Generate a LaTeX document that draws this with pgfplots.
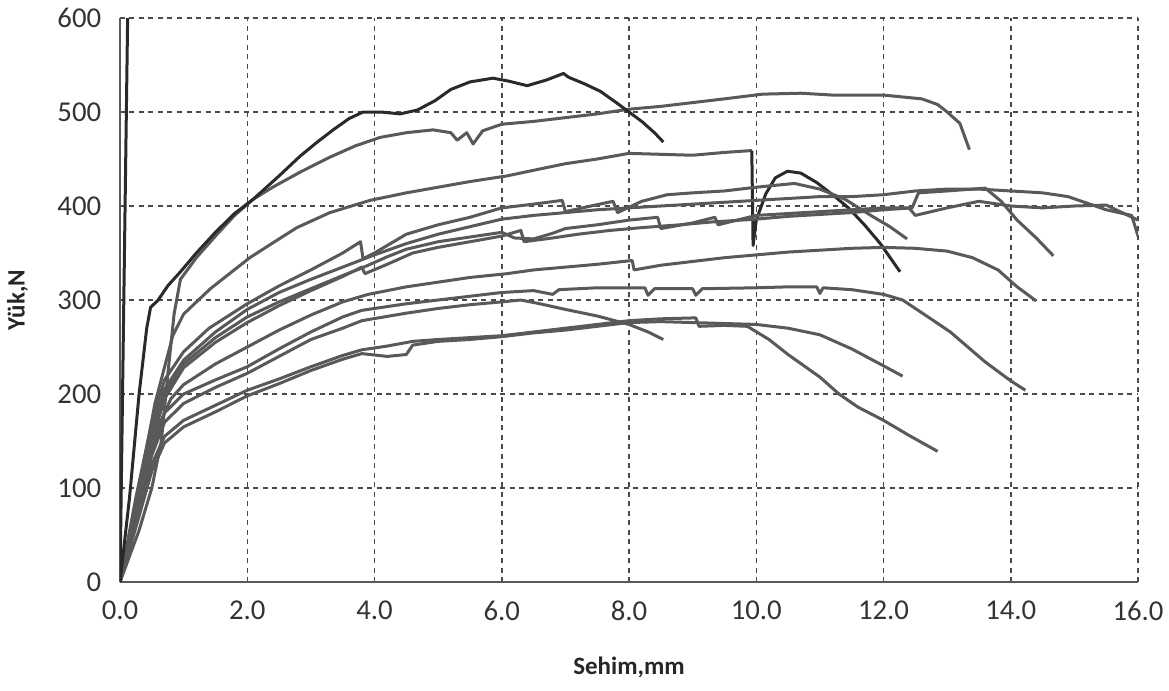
\documentclass[border=0pt]{standalone}
\usepackage{fontspec}
\setmainfont{Carlito}
\usepackage{pgfplots}
\pgfplotsset{compat=1.18}
\definecolor{cdark}{HTML}{2A2A2A}
\definecolor{cgray}{HTML}{595959}
\definecolor{cgrid}{HTML}{4A4A4A}
\begin{document}
\begin{tikzpicture}
\begin{axis}[
  scale only axis, width=407.2pt, height=225.6pt,
  xmin=0, xmax=16, ymin=0, ymax=600,
  xtick={0,2,...,16},
  xticklabels={0.0,2.0,4.0,6.0,8.0,10.0,12.0,14.0,16.0},
  ytick={0,100,...,600},
  yticklabels={0,100,200,300,400,500,600},
  axis x line*=bottom, axis y line*=left,
  axis line style={-, line width=1pt, color=cgray},
  grid=major,
  major grid style={line width=0.6pt, color=cgrid, dash pattern=on 2pt off 1.8pt},
  xtick style={draw=none},
  ytick style={draw=none},
  tick label style={font=\fontsize{11.5}{13}\selectfont, color=black!80},
  xticklabel style={yshift=-4pt},
  yticklabel style={xshift=-4pt},
  xlabel={\textbf{Sehim,mm}}, ylabel={\textbf{Yük,N}},
  label style={font=\fontsize{10}{12}\selectfont, color=black!85},
  xlabel style={at={([yshift=-34pt]rel axis cs:0.5,0)}, anchor=center},
  ylabel style={at={([xshift=-41pt]rel axis cs:0,0.5)}, anchor=center},
  every axis plot/.append style={line width=1.2pt, line join=round},
]
\coordinate (O) at (rel axis cs:0,0);
% C3
\addplot[cgray] coordinates {(0,0)(0.3,55)(0.5,100)(0.65,150)(0.75,220)(0.85,285)(0.95,322)(1.2,345)(1.5,368)(1.8,390)(2.09,407)(2.4,420)(2.83,436)(3.3,452)(3.7,464)(4.09,473)(4.5,478)(4.92,481)(5.2,478)(5.3,470)(5.45,478)(5.55,466)(5.7,480)(6.0,487)(6.5,490)(7.0,494)(7.5,498)(8.0,503)(8.5,506)(9.0,510)(9.5,514)(10.1,519)(10.7,520)(11.2,518)(12.0,518)(12.6,514)(12.85,508)(13.0,500)(13.2,488)(13.35,460)};
% C4
\addplot[cgray] coordinates {(0,0)(0.3,100)(0.55,190)(0.83,262)(1.0,285)(1.42,312)(2.04,345)(2.5,365)(2.78,377)(3.3,393)(3.93,406)(4.5,414)(5.0,420)(5.5,426)(6.08,432)(6.5,438)(7.0,445)(7.5,450)(8.0,456)(8.5,455)(9.0,454)(9.5,457)(9.93,459)};
\addplot[cdark] coordinates {(9.93,459)(9.95,358)(10.0,385)(10.15,413)(10.3,430)(10.49,437)(10.7,435)(10.95,425)(11.2,412)(11.45,398)(11.7,380)(11.95,360)(12.26,330)};
% H1
\addplot[cgray] coordinates {(0,0)(0.25,90)(0.5,170)(0.7,215)(1.0,245)(1.4,270)(2.0,296)(2.5,315)(3.0,332)(3.5,350)(3.78,362)(3.82,344)(4.0,350)(4.2,358)(4.5,370)(5.0,380)(5.5,388)(6.0,398)(6.5,402)(6.95,406)(7.0,394)(7.4,400)(7.75,405)(7.82,393)(8.2,405)(8.6,412)(9.0,414)(9.5,416)(10.0,420)(10.6,424)(11.0,418)(11.4,407)(11.8,390)(12.1,378)(12.37,365)};
% F1
\addplot[cgray] coordinates {(0,0)(0.3,95)(0.5,160)(0.7,205)(1.0,236)(1.5,266)(2.0,290)(2.5,308)(3.0,322)(3.5,335)(4.0,348)(4.5,360)(5.0,370)(5.5,378)(6.0,386)(6.5,390)(7.0,393)(7.5,396)(8.0,398)(8.5,400)(9.0,402)(9.5,404)(10.0,406)(10.5,408)(11.0,410)(11.5,410)(12.0,412)(12.5,416)(13.0,418)(13.5,418)(14.0,416)(14.5,414)(14.9,410)(15.2,403)(15.5,396)(15.9,390)(16.0,368)};
% I1
\addplot[cgray] coordinates {(0,0)(0.3,90)(0.5,155)(0.7,200)(1.0,232)(1.5,260)(2.0,282)(2.5,298)(3.0,312)(3.5,326)(3.8,334)(4.2,346)(4.5,354)(5.0,362)(5.5,367)(6.0,372)(6.2,366)(6.5,365)(6.8,371)(7.0,376)(7.5,380)(8.0,385)(8.45,388)(8.5,376)(9.0,382)(9.35,388)(9.4,380)(10.0,390)(10.5,392)(11.0,394)(11.5,396)(12.0,398)(12.4,398)(12.5,390)(13.0,398)(13.5,405)(14.0,400)(14.5,398)(15.0,400)(15.5,401)(16.0,385)};
% J1
\addplot[cgray] coordinates {(0,0)(0.3,85)(0.5,150)(0.7,195)(1.0,228)(1.5,255)(2.0,276)(2.5,294)(3.0,310)(3.5,325)(3.8,335)(3.85,328)(4.2,338)(4.6,350)(5.0,356)(5.5,362)(6.0,368)(6.3,374)(6.35,362)(6.8,366)(7.2,370)(7.7,374)(8.2,377)(8.8,380)(9.3,383)(10.0,386)(10.5,389)(11.0,391)(11.5,393)(12.0,396)(12.45,398)(12.55,414)(13.0,416)(13.6,419)(13.85,405)(14.1,385)(14.4,366)(14.67,347)};
% K1
\addplot[cgray] coordinates {(0,0)(0.3,90)(0.5,150)(0.8,195)(1.0,210)(1.5,232)(2.0,250)(2.5,268)(3.0,284)(3.5,298)(3.9,306)(4.5,314)(5.0,319)(5.5,324)(6.08,328)(6.5,332)(7.0,335)(7.5,338)(8.05,342)(8.08,332)(8.5,337)(9.0,341)(9.5,345)(10.0,348)(10.5,351)(11.0,353)(11.5,355)(12.0,356)(12.5,355)(13.0,352)(13.4,345)(13.8,332)(14.1,314)(14.4,299)};
% P1
\addplot[cgray] coordinates {(0,0)(0.3,85)(0.5,140)(0.7,180)(1.0,200)(1.5,215)(2.0,229)(2.5,248)(3.0,266)(3.5,282)(3.8,289)(4.5,296)(5.0,300)(5.5,304)(6.0,308)(6.5,310)(6.8,306)(6.9,311)(7.5,313)(8.25,313)(8.3,305)(8.4,312)(9.0,312)(9.05,305)(9.15,312)(10.0,313)(10.5,314)(10.95,314)(11.0,307)(11.05,313)(11.5,311)(12.0,306)(12.3,300)(12.7,282)(13.05,266)(13.6,234)(14.0,214)(14.23,204)};
% Q1
\addplot[cgray] coordinates {(0,0)(0.3,80)(0.5,135)(0.7,170)(1.0,190)(1.5,207)(2.0,222)(2.5,240)(3.0,258)(3.5,270)(3.8,278)(4.5,286)(5.0,291)(5.5,295)(6.0,298)(6.3,300)(6.6,296)(7.0,290)(7.5,283)(8.0,274)(8.3,266)(8.54,258)};
% R1
\addplot[cgray] coordinates {(0,0)(0.3,75)(0.5,125)(0.7,155)(1.0,172)(1.5,188)(2.0,204)(2.5,216)(3.0,229)(3.5,241)(3.8,247)(4.2,251)(4.6,256)(5.0,258)(5.5,260)(6.0,262)(6.5,266)(7.0,270)(7.5,274)(8.0,278)(8.5,280)(9.05,281)(9.1,272)(9.5,273)(9.86,272)(10.2,258)(10.5,242)(11.0,218)(11.3,200)(11.6,186)(12.0,172)(12.4,156)(12.85,139)};
% S1
\addplot[cgray] coordinates {(0,0)(0.3,70)(0.5,118)(0.7,148)(1.0,165)(1.5,181)(2.0,198)(2.5,211)(3.0,225)(3.5,237)(3.8,243)(4.2,240)(4.5,242)(4.6,252)(5.0,256)(5.5,258)(6.0,261)(6.5,265)(7.0,268)(7.5,272)(8.0,276)(8.5,277)(9.0,276)(9.5,275)(10.0,274)(10.5,270)(11.0,263)(11.5,248)(12.0,230)(12.3,219)};
% C2 (top)
\addplot[cdark] coordinates {(0,0)(0.15,90)(0.3,200)(0.42,270)(0.48,292)(0.6,300)(0.75,315)(0.95,330)(1.2,350)(1.5,372)(1.8,392)(2.09,407)(2.5,432)(2.83,453)(3.1,468)(3.35,481)(3.6,493)(3.82,500)(4.1,500)(4.4,498)(4.67,502)(4.95,512)(5.2,524)(5.5,532)(5.86,536)(6.1,533)(6.4,528)(6.7,534)(6.97,541)(7.05,537)(7.3,530)(7.55,522)(7.8,510)(8.0,500)(8.2,490)(8.4,478)(8.54,468)};
% steep line
\addplot[cdark] coordinates {(0,0)(0.12,600)};
\end{axis}
\pgfresetboundingbox
\path (O) ++(-48pt,-43.2pt) rectangle ++(467.6pt,276pt);
\end{tikzpicture}
\end{document}
